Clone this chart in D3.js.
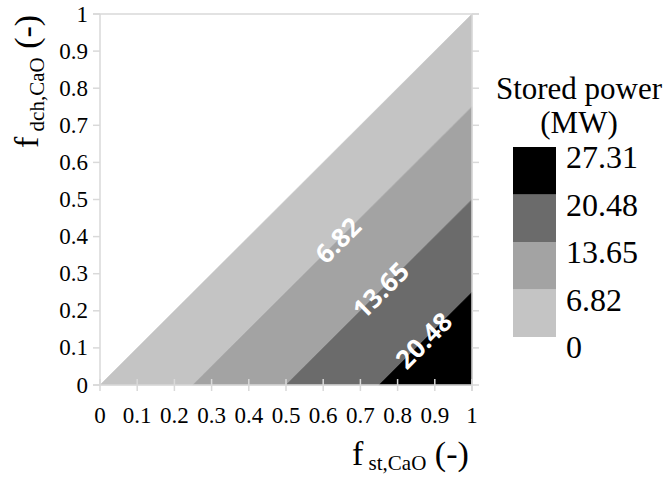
<!DOCTYPE html>
<html><head><meta charset="utf-8">
<script src="https://cdn.jsdelivr.net/npm/d3@7"></script>
<style>html,body{margin:0;padding:0;background:#fff;}svg{display:block;}</style>
</head><body>
<svg id="c" width="668" height="477"></svg>
<script>
// ---- data ----
const levels = [0, 6.82, 13.65, 20.48, 27.31];          // contour levels (MW)
const bandColors = ["#c4c4c4", "#a3a3a3", "#6b6b6b", "#000000"];
const contourLabels = ["6.82", "13.65", "20.48"];
const labelAt = [0.64, 0.755, 0.87];                     // f_st position of each contour label
const xTicks = [0, 0.1, 0.2, 0.3, 0.4, 0.5, 0.6, 0.7, 0.8, 0.9, 1];
const yTicks = [0, 0.1, 0.2, 0.3, 0.4, 0.5, 0.6, 0.7, 0.8, 0.9, 1];
const legendTitle = ["Stored power", "(MW)"];

const SERIF = '"Liberation Serif", serif';
const SANS = '"Open Sans", "Liberation Sans", sans-serif';
const svg = d3.select("#c");
const x = d3.scaleLinear().domain([0, 1]).range([100, 472]);
const y = d3.scaleLinear().domain([0, 1]).range([385, 14]);
const pmax = levels[levels.length - 1];

// bands: stored power = pmax*(f_st - f_dch)
const bands = d3.range(bandColors.length).map(i => {
  const a = levels[i] / pmax, b = levels[i + 1] / pmax;
  return {color: bandColors[i], pts: [[a, 0], [b, 0], [1, 1 - b], [1, 1 - a]]};
});
const line = d3.line().x(d => x(d[0])).y(d => y(d[1]));
svg.append("g").selectAll("path").data(bands).join("path")
  .attr("d", d => line(d.pts) + "Z")
  .attr("fill", d => d.color)
  .attr("stroke", d => d.color).attr("stroke-width", 0.6);

// frame / axes
const gridC = "#d9d9d9";
const fr = svg.append("g").attr("stroke", gridC).attr("stroke-width", 1.5).attr("fill", "none");
fr.append("line").attr("x1", x(0) - 7).attr("x2", x(1) + 7).attr("y1", y(1)).attr("y2", y(1));
fr.append("line").attr("x1", x(0)).attr("x2", x(0)).attr("y1", y(1)).attr("y2", y(0));
fr.append("line").attr("x1", x(1)).attr("x2", x(1)).attr("y1", y(1)).attr("y2", y(0) + 6);
fr.append("line").attr("x1", x(0) - 7).attr("x2", x(1)).attr("y1", y(0)).attr("y2", y(0));
fr.selectAll(".yl").data(yTicks).join("line")
  .attr("x1", x(0) - 7).attr("x2", x(0)).attr("y1", d => y(d)).attr("y2", d => y(d));
fr.selectAll(".yr").data(yTicks).join("line")
  .attr("x1", x(1)).attr("x2", x(1) + 7).attr("y1", d => y(d)).attr("y2", d => y(d));
fr.selectAll(".xt").data(xTicks).join("line")
  .attr("x1", d => x(d)).attr("x2", d => x(d)).attr("y1", y(0) - 6).attr("y2", y(0) + 6);

// tick labels
svg.append("g").selectAll("text").data(yTicks).join("text")
  .style("font-family", SERIF)
  .attr("x", 88).attr("y", d => y(d)).attr("dy", "0.33em")
  .attr("text-anchor", "end").attr("font-size", 23)
  .text(d => d3.format("")(d));
svg.append("g").selectAll("text").data(xTicks).join("text")
  .style("font-family", SERIF)
  .attr("x", d => x(d)).attr("y", 423)
  .attr("text-anchor", "middle").attr("font-size", 23)
  .text(d => d3.format("")(d));

// axis titles
const xt = svg.append("text").style("font-family", SERIF).attr("x", 352).attr("y", 465).attr("font-size", 34);
xt.append("tspan").text("f");
xt.append("tspan").attr("font-size", 21).attr("dy", 5).text(" st,CaO");
xt.append("tspan").attr("dy", -5).text(" (-)");

const yt = svg.append("text").style("font-family", SERIF).attr("transform", "translate(38,148) rotate(-90)")
  .attr("font-size", 34);
yt.append("tspan").text("f");
yt.append("tspan").attr("font-size", 21).attr("dy", 6).text(" dch,CaO");
yt.append("tspan").attr("dy", -6).text(" (-)");

// contour labels
svg.append("g").selectAll("text").data(contourLabels).join("text")
  .style("font-family", SANS)
  .attr("transform", (d, i) => {
    const fx = labelAt[i], fy = fx - levels[i + 1] / pmax;
    return `translate(${x(fx)},${y(fy)}) rotate(-45)`;
  })
  .attr("text-anchor", "middle").attr("dy", "0.36em")
  .attr("font-weight", "bold")
  .attr("font-size", 26).attr("fill", "#fff")
  .text(d => d);

// legend
const lg = svg.append("g");
lg.selectAll("text.t").data(legendTitle).join("text")
  .style("font-family", SERIF)
  .attr("x", 579).attr("y", (d, i) => 99 + i * 34)
  .attr("text-anchor", "middle").attr("font-size", 31)
  .text(d => d);
const ly = d3.scaleLinear().domain([0, levels.length - 1]).range([337, 147]);
lg.selectAll("rect").data(bandColors).join("rect")
  .attr("x", 513).attr("width", 43)
  .attr("y", (d, i) => ly(i + 1)).attr("height", (d, i) => ly(i) - ly(i + 1))
  .attr("fill", d => d);
lg.selectAll("text.l").data(levels).join("text")
  .style("font-family", SERIF)
  .attr("x", 566).attr("y", (d, i) => ly(i) + 10).attr("dy", "0.35em")
  .attr("font-size", 32)
  .text(d => d);
</script>
</body></html>
